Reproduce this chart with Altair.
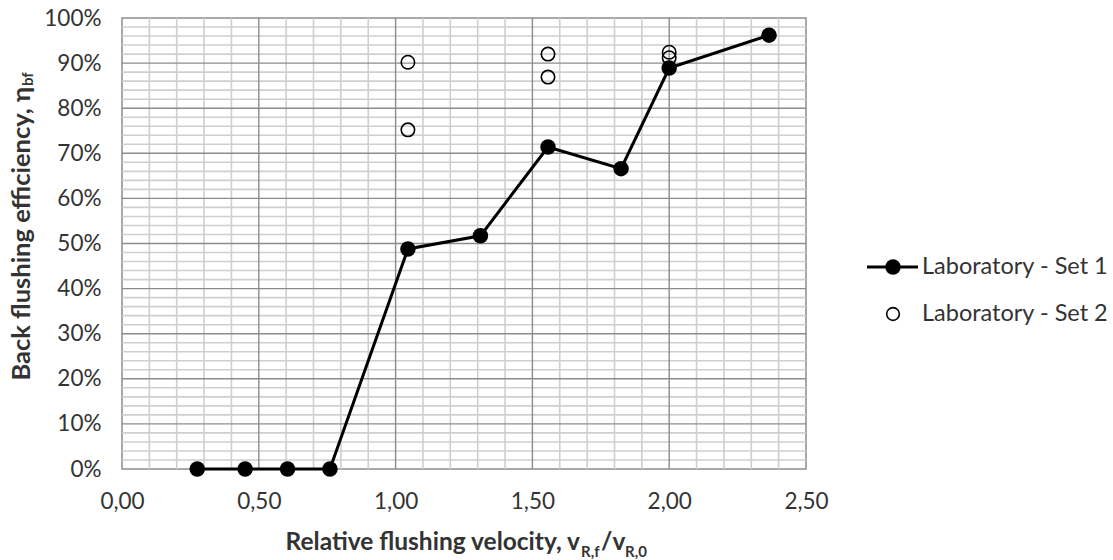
import altair as alt
import pandas as pd

# ---- data ----
set1_x = [0.275, 0.45, 0.605, 0.76, 1.045, 1.31, 1.557, 1.824, 2.00, 2.365]
set1_y = [0.0, 0.0, 0.0, 0.0, 0.488, 0.517, 0.714, 0.666, 0.889, 0.962]
set2_x = [1.045, 1.045, 1.557, 1.557, 2.00, 2.00]
set2_y = [0.902, 0.752, 0.920, 0.869, 0.924, 0.912]

x_ticks = [0.0, 0.5, 1.0, 1.5, 2.0, 2.5]
y_ticks = [i / 10 for i in range(11)]
x_minor = [round(0.1 * i, 2) for i in range(1, 25) if i % 5]
y_minor = [round(0.02 * i, 2) for i in range(1, 50) if i % 5]
x_major = [0.5, 1.0, 1.5, 2.0]
y_major = [round(0.1 * i, 1) for i in range(1, 10)]

legend_labels = ["Laboratory - Set 1", "Laboratory - Set 2"]

FONT = "Lato"
TXT = "#333333"
TICK_FS = 22.5
TITLE_FS = 24.5
SUB_FS = 15

xs = alt.Scale(domain=[0, 2.5], nice=False, zero=False)
ys = alt.Scale(domain=[0, 1], nice=False)

s1 = pd.DataFrame({"x": set1_x, "y": set1_y})
s2 = pd.DataFrame({"x": set2_x, "y": set2_y})

xaxis = alt.Axis(values=x_ticks, labelExpr="replace(format(datum.value, '.2f'), '.', ',')",
                 grid=False, ticks=False, domain=False, title=None, labelFont=FONT, labelFlush=False,
                 labelFontSize=TICK_FS, labelColor=TXT, labelPadding=21)
yaxis = alt.Axis(values=y_ticks, format=".0%", grid=False, ticks=False, domain=False, labelFlush=False,
                 title=None, labelFont=FONT, labelFontSize=TICK_FS, labelColor=TXT, labelPadding=21)

minor_x = alt.Chart(pd.DataFrame({"x": x_minor})).mark_rule(color="#cfcfcf", strokeWidth=1.6).encode(
    x=alt.X("x:Q", scale=xs, axis=xaxis))
minor_y = alt.Chart(pd.DataFrame({"y": y_minor})).mark_rule(color="#cfcfcf", strokeWidth=1.6).encode(
    y=alt.Y("y:Q", scale=ys, axis=yaxis))
major_x = alt.Chart(pd.DataFrame({"x": x_major})).mark_rule(color="#8c8c8c", strokeWidth=1.4).encode(
    x=alt.X("x:Q", scale=xs))
major_y = alt.Chart(pd.DataFrame({"y": y_major})).mark_rule(color="#8c8c8c", strokeWidth=1.4).encode(
    y=alt.Y("y:Q", scale=ys))

line1 = alt.Chart(s1).mark_line(color="black", strokeWidth=3).encode(
    x=alt.X("x:Q", scale=xs), y=alt.Y("y:Q", scale=ys))
pts1 = alt.Chart(s1).mark_point(filled=True, color="black", size=240, opacity=1, shape="circle").encode(
    x=alt.X("x:Q", scale=xs), y=alt.Y("y:Q", scale=ys))
pts2 = alt.Chart(s2).mark_point(filled=False, color="black", size=180, strokeWidth=1.6, opacity=1,
                                shape="circle").encode(
    x=alt.X("x:Q", scale=xs), y=alt.Y("y:Q", scale=ys))

one = pd.DataFrame({"a": [0]})

# legend (manual)
leg_line = alt.Chart(one).mark_rule(color="black", strokeWidth=3).encode(
    x=alt.value(745), x2=alt.value(796), y=alt.value(249))
leg_p1 = alt.Chart(one).mark_point(filled=True, color="black", size=240, opacity=1).encode(
    x=alt.value(771), y=alt.value(249))
leg_p2 = alt.Chart(one).mark_point(filled=False, color="black", size=160, strokeWidth=1.6, opacity=1).encode(
    x=alt.value(771), y=alt.value(296))
leg_t1 = alt.Chart(one).mark_text(text=legend_labels[0], align="left", baseline="middle", font=FONT,
                                  fontSize=23.5, color=TXT).encode(x=alt.value(800), y=alt.value(249))
leg_t2 = alt.Chart(one).mark_text(text=legend_labels[1], align="left", baseline="middle", font=FONT,
                                  fontSize=23.5, color=TXT).encode(x=alt.value(800), y=alt.value(296))

# titles with subscripts
def txt(t, x, y, size=TITLE_FS, align="left", baseline="alphabetic", angle=0):
    return alt.Chart(one).mark_text(text=t, align=align, baseline=baseline, font=FONT, fontSize=size,
                                    fontWeight="bold", color=TXT, angle=angle).encode(
        x=alt.value(x), y=alt.value(y))

xt_main = txt("Relative flushing velocity, v", 458, 532, align="right")
xt_s1 = txt("R,f", 459, 539, size=SUB_FS)
xt_mid = txt("/v", 479, 532)
xt_s2 = txt("R,0", 503, 539, size=SUB_FS)

yt_main = txt("Back flushing efficiency, η", -100, 69, size=25.5, align="right", baseline="middle", angle=270)
yt_sub = txt("bf", -94, 68, size=SUB_FS, align="left", baseline="middle", angle=270)

chart = alt.layer(
    minor_x, minor_y, major_x, major_y, line1, pts1, pts2,
    leg_line, leg_p1, leg_p2, leg_t1, leg_t2,
    xt_main, xt_s1, xt_mid, xt_s2, yt_main, yt_sub,
).properties(
    width=684, height=451,
    padding={"left": 122, "top": 18, "right": 307, "bottom": 91},
    autosize="none",
).configure_view(stroke="#8c8c8c", strokeWidth=1.5)

chart.save("out.html", embed_options={"renderer": "svg", "actions": False})
